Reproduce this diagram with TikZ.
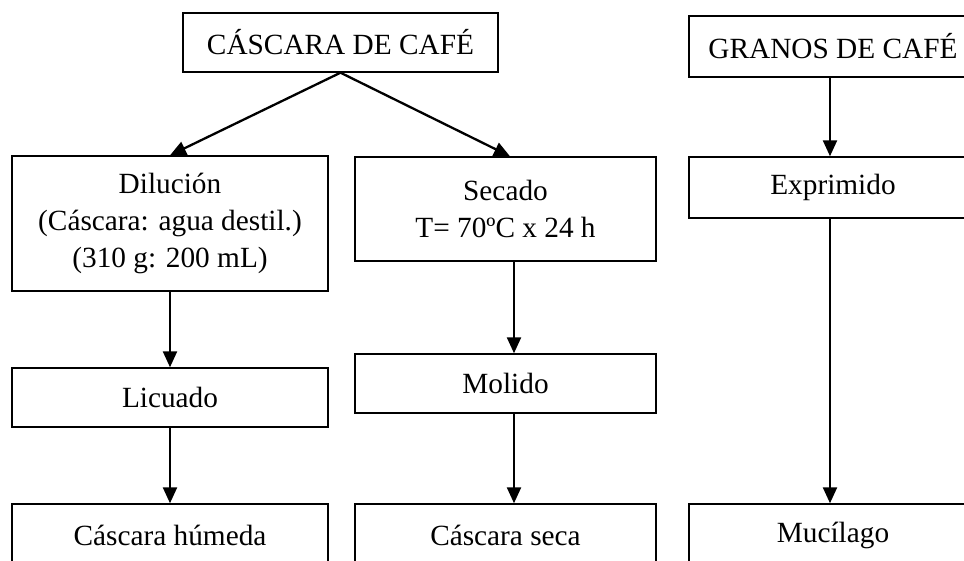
\documentclass[tikz,border=0pt]{standalone}
\usepackage{fontspec}
\setmainfont{Liberation Serif}
\usetikzlibrary{arrows.meta,calc}

\begin{document}
\begin{tikzpicture}[x=0.5pt, y=-0.5pt,
    block/.style={rectangle, draw, line width=0.7pt, align=center, inner sep=0pt, font=\fontsize{14.65}{18.4}\selectfont},
    col_l/.style={block, minimum width=158pt},
    col_m/.style={block, minimum width=150.5pt},
    col_r/.style={block, minimum width=144pt},
    line/.style={draw, -{Triangle[length=8pt,width=7pt]}, line width=1.15pt}]

    \useasboundingbox (0,0) rectangle (964,561);
    \clip (0,0) rectangle (964,561);

    % Top: husk
    \node [block, minimum width=157.5pt, minimum height=29.5pt] (cas_top) at (340.5,42.5) {CÁSCARA DE CAFÉ};

    % Left column: wet husk
    \node [col_l, minimum height=67.5pt] (dil) at (170,223.5) {Dilución\\(Cáscara: agua destil.)\\(310 g: 200 mL)};
    \node [col_l, minimum height=29.5pt] (lic) at (170,397.5) {Licuado};
    \node [col_l, minimum height=31pt] (hum) at (170,535) {Cáscara húmeda};

    % Middle column: dry husk
    \node [col_m, minimum height=52pt] (sec) at (505.5,209) {Secado\\T= 70ºC x 24 h};
    \node [col_m, minimum height=29.5pt] (mol) at (505.5,383.5) {Molido};
    \node [col_m, minimum height=31pt] (seca) at (505.5,535) {Cáscara seca};

    % Right column: beans
    \node [col_r, minimum height=30.5pt] (gra) at (833,46.5) {GRANOS DE CAFÉ};
    \node [col_r, minimum height=30.5pt] (exp) at (833,187.5) {Exprimido};
    \node [col_r, minimum height=31pt] (muc) at (833,535) {Mucílago};

    % Connectors
    \draw [line] (cas_top.south) -- (dil.north);
    \draw [line] (cas_top.south) -- ($(sec.north)+(4.5,0)$);

    \draw [line] (dil.south) -- (lic.north);
    \draw [line] (lic.south) -- (hum.north);

    \draw [line] ($(sec.south)+(8.5,0)$) -- ($(mol.north)+(8.5,0)$);
    \draw [line] ($(mol.south)+(8.5,0)$) -- ($(seca.north)+(8.5,0)$);

    \draw [line] ($(gra.south)+(-3,0)$) -- ($(exp.north)+(-3,0)$);
    \draw [line] ($(exp.south)+(-3,0)$) -- ($(muc.north)+(-3,0)$);
\end{tikzpicture}
\end{document}
